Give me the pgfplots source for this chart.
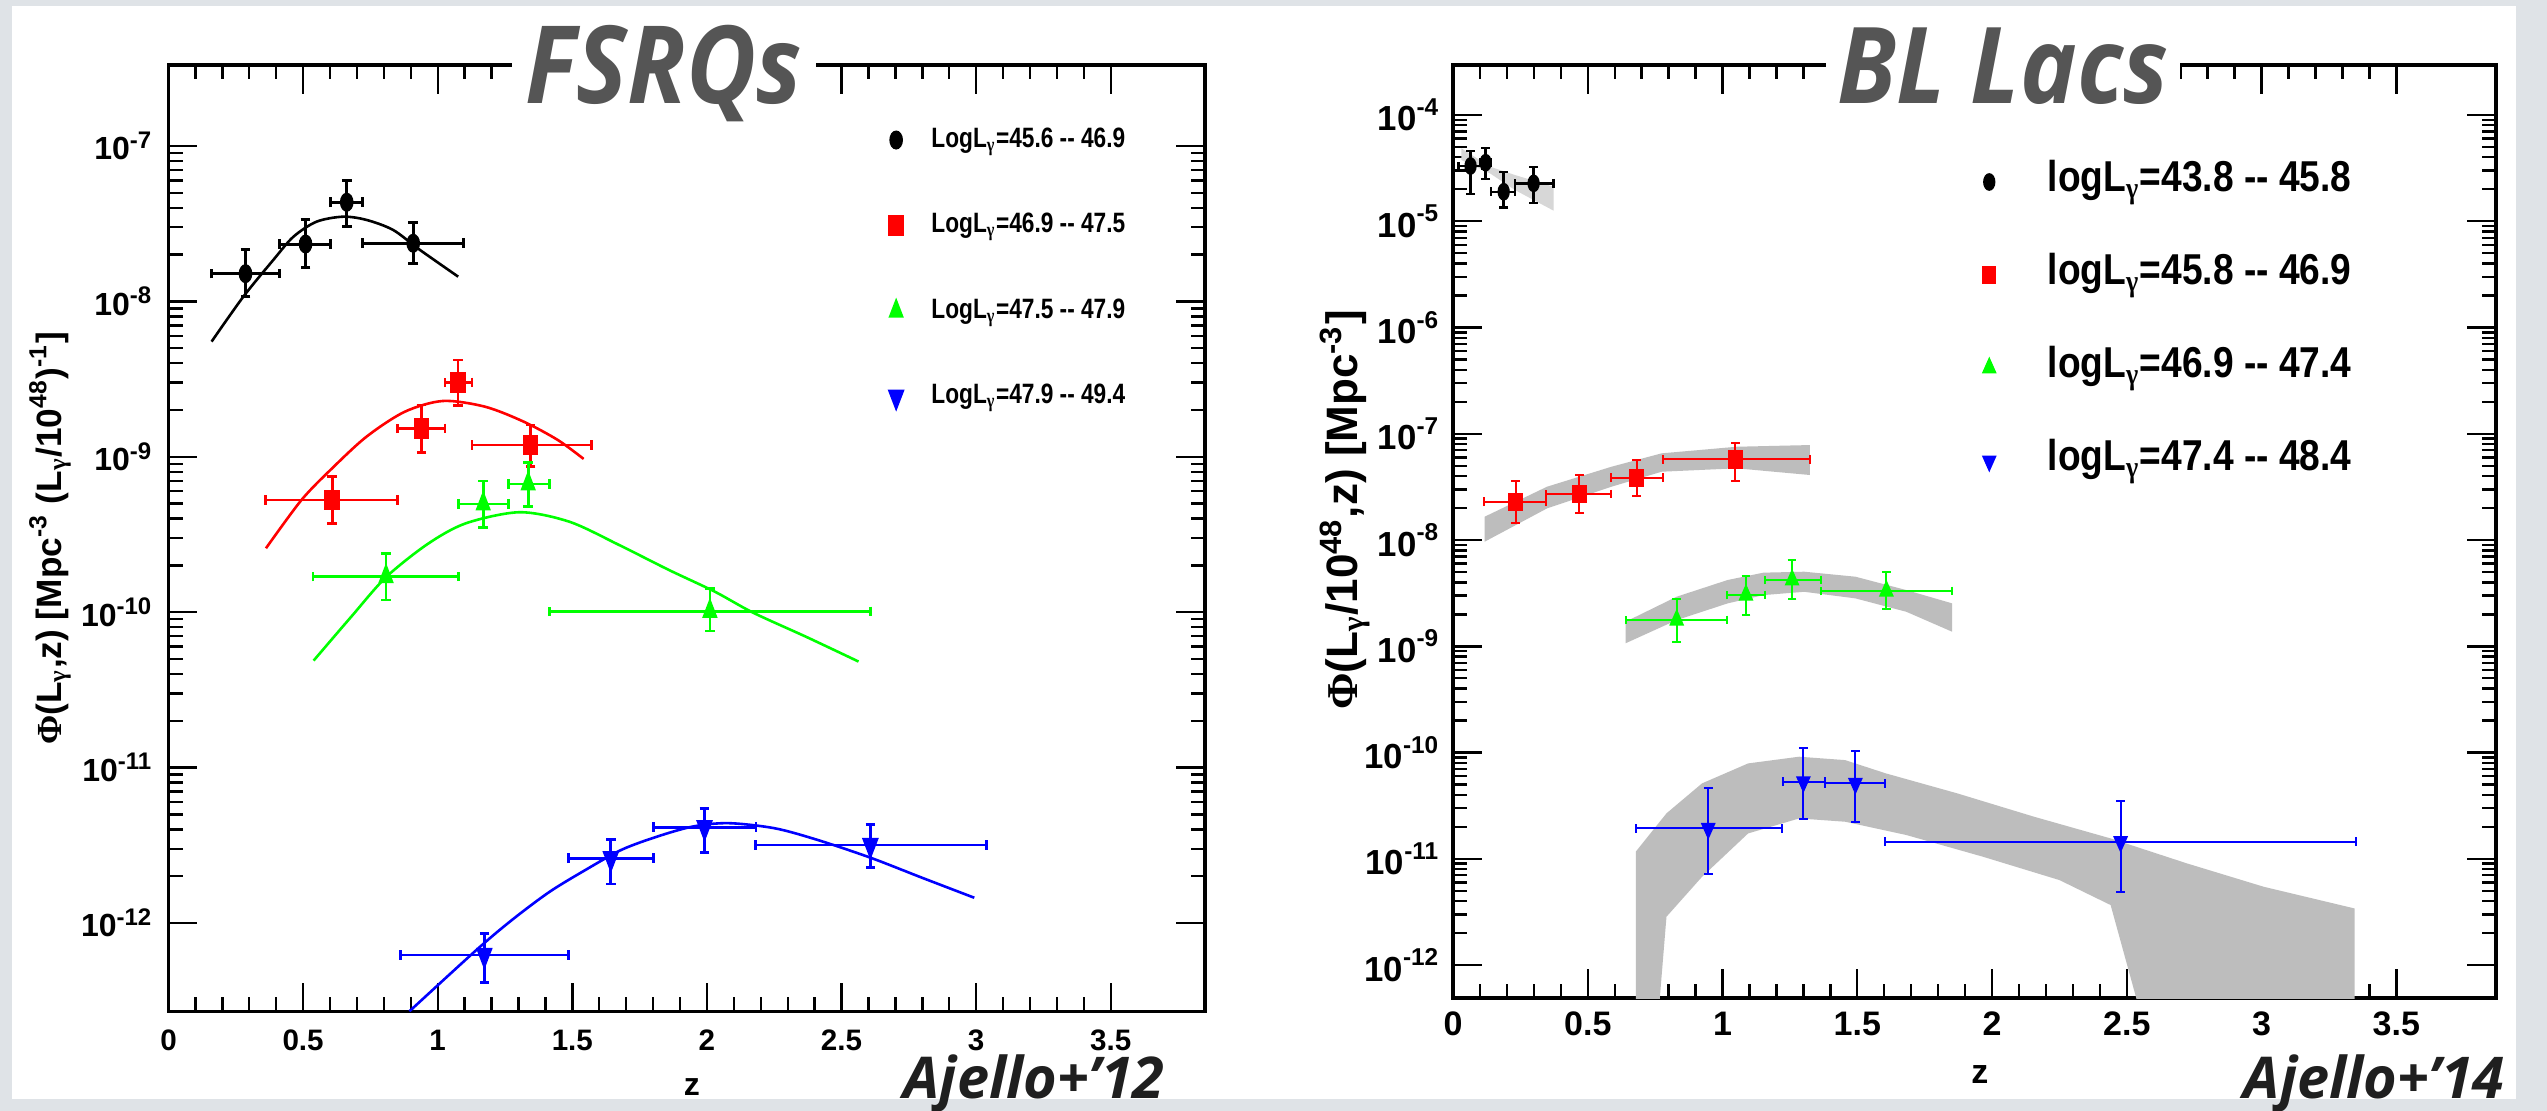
\documentclass[border=0pt]{standalone}
\usepackage{fontspec}
\setmainfont{Liberation Sans}
\newfontfamily\osfont{Open Sans}
\newfontfamily\serfont{Liberation Serif}
\usepackage{graphicx}
\usepackage{pgfplots}
\pgfplotsset{compat=1.18}
\definecolor{bggray}{HTML}{DFE3E7}
\definecolor{titlegray}{HTML}{555555}
\definecolor{mygreen}{HTML}{00FF00}
\definecolor{myred}{HTML}{FF0000}
\definecolor{myblue}{HTML}{0000FF}
\definecolor{bandgray}{HTML}{BDBDBD}
\newcommand{\gam}{\textsubscript{\serfont γ}}
\begin{document}
\begin{tikzpicture}
\fill[bggray] (0pt,0pt) rectangle (636.75pt,277.75pt);
\fill[white] (3pt,3pt) rectangle (629pt,276.25pt);

% ---------------- FSRQs ----------------
\begin{axis}[
  scale only axis, anchor=south west, ymode=log, xmin=0,
  tick align=inside,
  axis line style={line width=0.8pt},
  tick style={black, line width=0.6pt},
  major tick length=7.2pt, minor tick length=3.6pt,
  xtick={0,0.5,1,1.5,2,2.5,3,3.5},
  xticklabels={0,0.5,1,1.5,2,2.5,3,3.5},
  minor x tick num=4,
  legend cell align=left,
  at={(42.125pt,24.875pt)}, width=259.125pt, height=236.625pt,
  xmax=3.85, ymin=2.69e-13, ymax=3.32e-7,
  ytick={1e-12,1e-11,1e-10,1e-9,1e-8,1e-7},
  yticklabels={10\textsuperscript{-12},10\textsuperscript{-11},10\textsuperscript{-10},10\textsuperscript{-9},10\textsuperscript{-8},10\textsuperscript{-7}},
  yticklabel style={font=\bfseries\fontsize{8}{9}\selectfont, inner sep=0pt, xshift=-3.6pt},
  xticklabel style={font=\bfseries\fontsize{7.4}{9}\selectfont, inner sep=0pt, yshift=-4.4pt},
  xlabel={z},
  xlabel style={at={(axis description cs:0.505,-0.0798)}, anchor=center, font=\bfseries\fontsize{8}{9}\selectfont},
  ylabel={{\serfont Φ}(L\gam,z) [Mpc\textsuperscript{-3} (L\gam/10\textsuperscript{48})\textsuperscript{-1}]},
  ylabel style={at={(axis description cs:-0.1143,0.5)}, anchor=center, font=\bfseries\fontsize{8.8}{10}\selectfont},
  legend style={draw=none, fill=none, at={(0.695,0.9366)}, anchor=north west, inner sep=0pt, outer sep=0pt,
    row sep=13.9pt, column sep=7pt, font=\bfseries\fontsize{7}{8}\selectfont,
    nodes={inner sep=0pt, text height=5.5pt, text depth=2pt}},
]
% model curves
\addplot[black, line width=0.65pt, smooth, forget plot] coordinates {
(0.160,5.508e-9) (0.278,1.072e-8) (0.389,1.845e-8) (0.464,2.606e-8) (0.550,3.258e-8) (0.649,3.508e-8)
(0.736,3.342e-8) (0.835,2.877e-8) (0.934,2.143e-8) (1.076,1.442e-8)};
\addplot[myred, line width=0.65pt, smooth, forget plot] coordinates {
(0.362,2.576e-10) (0.494,5.272e-10) (0.608,8.433e-10) (0.736,1.349e-9) (0.878,1.950e-9) (1.020,2.286e-9)
(1.176,2.099e-9) (1.319,1.683e-9) (1.446,1.282e-9) (1.542,9.683e-10)};
\addplot[mygreen, line width=0.65pt, smooth, forget plot] coordinates {
(0.539,4.875e-11) (0.679,9.354e-11) (0.808,1.679e-10) (0.963,2.748e-10) (1.105,3.733e-10) (1.304,4.395e-10)
(1.489,3.819e-10) (1.674,2.704e-10) (1.858,1.871e-10) (2.029,1.355e-10) (2.171,9.931e-11) (2.370,6.918e-11) (2.563,4.808e-11)};
\addplot[myblue, line width=0.65pt, smooth, forget plot] coordinates {
(0.895,2.70e-13) (1.151,6.871e-13) (1.284,1.072e-12) (1.417,1.592e-12) (1.549,2.193e-12) (1.682,2.951e-12)
(1.814,3.589e-12) (1.947,4.169e-12) (2.080,4.385e-12) (2.252,4.064e-12) (2.411,3.420e-12) (2.607,2.630e-12)
(2.800,1.950e-12) (2.993,1.452e-12)};
% data points
\addplot[only marks, mark=*, black, mark size=1.5pt, mark options={yscale=1.45},
  error bars/.cd, x dir=both, x explicit, y dir=both, y explicit,
  error bar style={line width=0.75pt}, error mark options={rotate=90, mark size=1.2pt, line width=0.75pt}]
  table[x=z, y=v, x error minus=xm, x error plus=xp, y error minus=ym, y error plus=yp] {
z xm xp v ym yp
0.286 0.128 0.127 1.507e-8 0.435e-8 0.636e-8
0.509 0.095 0.094 2.339e-8 0.683e-8 1.003e-8
0.662 0.060 0.058 4.345e-8 1.318e-8 1.694e-8
0.909 0.189 0.188 2.366e-8 0.624e-8 0.862e-8
};
\addlegendentry{\scalebox{0.81}[1]{LogL\gam=45.6 -{}- 46.9}}
\addplot[only marks, mark=square*, myred, mark size=1.75pt, mark options={yscale=1.36},
  error bars/.cd, x dir=both, x explicit, y dir=both, y explicit,
  error bar style={line width=0.7pt}, error mark options={rotate=90, mark size=1.2pt, line width=0.7pt}]
  table[x=z, y=v, x error minus=xm, x error plus=xp, y error minus=ym, y error plus=yp] {
z xm xp v ym yp
0.608 0.249 0.244 5.272e-10 1.539e-10 2.175e-10
0.939 0.087 0.088 1.524e-9 0.455e-9 0.629e-9
1.075 0.048 0.052 3.013e-9 0.880e-9 1.185e-9
1.345 0.218 0.225 1.191e-9 0.328e-9 0.412e-9
};
\addlegendentry{\scalebox{0.81}[1]{LogL\gam=46.9 -{}- 47.5}}
\addplot[only marks, mark=triangle*, mygreen, mark size=1.9pt, mark options={yscale=1.5},
  error bars/.cd, x dir=both, x explicit, y dir=both, y explicit,
  error bar style={line width=0.7pt}, error mark options={rotate=90, mark size=1.2pt, line width=0.7pt}]
  table[x=z, y=v, x error minus=xm, x error plus=xp, y error minus=ym, y error plus=yp] {
z xm xp v ym yp
0.808 0.271 0.270 1.694e-10 0.497e-10 0.699e-10
1.169 0.091 0.093 4.966e-10 1.450e-10 2.016e-10
1.336 0.074 0.078 6.683e-10 1.908e-10 2.521e-10
2.011 0.597 0.596 1.012e-10 0.255e-10 0.414e-10
};
\addlegendentry{\scalebox{0.81}[1]{LogL\gam=47.5 -{}- 47.9}}
\addplot[only marks, mark=triangle*, myblue, mark size=2.1pt, mark options={rotate=180, yscale=1.5},
  error bars/.cd, x dir=both, x explicit, y dir=both, y explicit,
  error bar style={line width=0.7pt}, error mark options={rotate=90, mark size=1.2pt, line width=0.7pt}]
  table[x=z, y=v, x error minus=xm, x error plus=xp, y error minus=ym, y error plus=yp] {
z xm xp v ym yp
1.173 0.311 0.313 6.223e-13 2.093e-13 2.367e-13
1.643 0.157 0.158 2.606e-12 0.824e-12 0.853e-12
1.991 0.190 0.191 4.130e-12 1.279e-12 1.340e-12
2.607 0.426 0.431 3.170e-12 0.900e-12 1.115e-12
};
\addlegendentry{\scalebox{0.81}[1]{LogL\gam=47.9 -{}- 49.4}}
\end{axis}

% ---------------- BL Lacs ----------------
\begin{axis}[
  scale only axis, anchor=south west, ymode=log, xmin=0,
  tick align=inside,
  axis line style={line width=0.8pt},
  tick style={black, line width=0.6pt},
  major tick length=7.2pt, minor tick length=3.6pt,
  xtick={0,0.5,1,1.5,2,2.5,3,3.5},
  xticklabels={0,0.5,1,1.5,2,2.5,3,3.5},
  minor x tick num=4,
  legend cell align=left,
  at={(363.25pt,28.25pt)}, width=260.75pt, height=233.25pt,
  xmax=3.87, ymin=4.9e-13, ymax=2.955e-4,
  ytick={1e-12,1e-11,1e-10,1e-9,1e-8,1e-7,1e-6,1e-5,1e-4},
  yticklabels={10\textsuperscript{-12},10\textsuperscript{-11},10\textsuperscript{-10},10\textsuperscript{-9},10\textsuperscript{-8},10\textsuperscript{-7},10\textsuperscript{-6},10\textsuperscript{-5},10\textsuperscript{-4}},
  yticklabel style={font=\bfseries\fontsize{8.7}{10}\selectfont, inner sep=0pt, xshift=-3pt},
  xticklabel style={font=\bfseries\fontsize{8.5}{10}\selectfont, inner sep=0pt, yshift=-3.25pt},
  xlabel={z},
  xlabel style={at={(axis description cs:0.505,-0.0815)}, anchor=center, font=\bfseries\fontsize{8.5}{10}\selectfont},
  ylabel={{\serfont Φ}(L\gam/10\textsuperscript{48},z) [Mpc\textsuperscript{-3}]},
  ylabel style={at={(axis description cs:-0.1035,0.523)}, anchor=center, font=\bfseries\fontsize{11}{13}\selectfont},
  legend style={draw=none, fill=none, at={(0.508,0.8982)}, anchor=north west, inner sep=0pt, outer sep=0pt,
    row sep=12.25pt, column sep=13pt, font=\bfseries\fontsize{10.8}{12}\selectfont,
    nodes={inner sep=0pt, text height=8pt, text depth=3pt}},
]
% uncertainty bands
\addplot[fill=bandgray!60, draw=none, forget plot] coordinates {
(0.031,4.853e-5) (0.137,3.266e-5) (0.230,2.723e-5) (0.373,2.113e-5)
(0.373,1.259e-5) (0.230,1.968e-5) (0.137,2.825e-5) (0.031,3.767e-5)} -- cycle;
\addplot[fill=bandgray, draw=none, forget plot] coordinates {
(0.117,1.656e-8) (0.349,3.177e-8) (0.588,4.898e-8) (0.774,6.546e-8) (1.052,7.551e-8) (1.324,7.834e-8)
(1.324,4.093e-8) (1.052,4.732e-8) (0.774,4.395e-8) (0.588,3.177e-8) (0.349,1.986e-8) (0.117,9.638e-9)} -- cycle;
\addplot[fill=bandgray, draw=none, forget plot] coordinates {
(0.640,1.702e-9) (0.830,2.931e-9) (1.019,4.207e-9) (1.152,4.932e-9) (1.303,5.035e-9) (1.493,4.519e-9)
(1.682,3.381e-9) (1.852,2.535e-9) (1.852,1.371e-9) (1.682,2.113e-9) (1.493,2.825e-9) (1.303,3.258e-9)
(1.152,3.034e-9) (1.019,2.535e-9) (0.830,1.766e-9) (0.640,1.067e-9)} -- cycle;
\addplot[fill=bandgray, draw=none, forget plot] coordinates {
(0.678,1.167e-11) (0.792,2.679e-11) (0.924,5.129e-11) (1.095,7.907e-11) (1.284,9.141e-11) (1.455,8.492e-11)
(1.606,6.368e-11) (1.871,4.130e-11) (2.156,2.489e-11) (2.440,1.556e-11) (2.723,9.057e-12) (3.008,5.458e-12)
(3.345,3.412e-12) (3.345,1e-13) (2.610,1e-13) (2.440,3.673e-12) (2.250,6.310e-12) (1.966,1.047e-11)
(1.682,1.675e-11) (1.455,2.234e-11) (1.284,2.399e-11) (1.095,1.734e-11) (0.924,6.776e-12) (0.792,2.851e-12)
(0.745,1e-13) (0.678,1e-13)} -- cycle;
% data points
\addplot[only marks, mark=*, black, mark size=1.34pt, mark options={yscale=1.5},
  error bars/.cd, x dir=both, x explicit, y dir=both, y explicit,
  error bar style={line width=0.6pt}, error mark options={rotate=90, mark size=1.1pt, line width=0.6pt}]
  table[x=z, y=v, x error minus=xm, x error plus=xp, y error minus=ym, y error plus=yp] {
z xm xp v ym yp
0.065 0.045 0.045 3.311e-5 1.516e-5 1.270e-5
0.121 0.020 0.020 3.556e-5 1.073e-5 1.364e-5
0.188 0.047 0.042 1.897e-5 0.545e-5 1.027e-5
0.299 0.069 0.074 2.275e-5 0.799e-5 0.983e-5
};
\addlegendentry{\scalebox{0.86}[1]{logL\gam=43.8 -{}- 45.8}}
\addplot[only marks, mark=square*, myred, mark size=1.6pt, mark options={yscale=1.3},
  error bars/.cd, x dir=both, x explicit, y dir=both, y explicit,
  error bar style={line width=0.5pt}, error mark options={rotate=90, mark size=1.1pt, line width=0.5pt}]
  table[x=z, y=v, x error minus=xm, x error plus=xp, y error minus=ym, y error plus=yp] {
z xm xp v ym yp
0.232 0.117 0.114 2.296e-8 0.841e-8 1.318e-8
0.469 0.123 0.119 2.710e-8 0.903e-8 1.383e-8
0.681 0.093 0.099 3.855e-8 1.261e-8 1.807e-8
1.048 0.268 0.276 5.741e-8 2.127e-8 2.500e-8
};
\addlegendentry{\scalebox{0.86}[1]{logL\gam=45.8 -{}- 46.9}}
\addplot[only marks, mark=triangle*, mygreen, mark size=1.8pt, mark options={yscale=1.3},
  error bars/.cd, x dir=both, x explicit, y dir=both, y explicit,
  error bar style={line width=0.5pt}, error mark options={rotate=90, mark size=1.1pt, line width=0.5pt}]
  table[x=z, y=v, x error minus=xm, x error plus=xp, y error minus=ym, y error plus=yp] {
z xm xp v ym yp
0.830 0.190 0.185 1.766e-9 0.677e-9 1.001e-9
1.087 0.072 0.069 3.034e-9 1.066e-9 1.579e-9
1.258 0.102 0.106 4.207e-9 1.421e-9 2.235e-9
1.608 0.244 0.244 3.311e-9 1.083e-9 1.724e-9
};
\addlegendentry{\scalebox{0.86}[1]{logL\gam=46.9 -{}- 47.4}}
\addplot[only marks, mark=triangle*, myblue, mark size=1.8pt, mark options={rotate=180, yscale=1.3},
  error bars/.cd, x dir=both, x explicit, y dir=both, y explicit,
  error bar style={line width=0.5pt}, error mark options={rotate=90, mark size=1.1pt, line width=0.5pt}]
  table[x=z, y=v, x error minus=xm, x error plus=xp, y error minus=ym, y error plus=yp] {
z xm xp v ym yp
0.947 0.269 0.275 1.932e-11 1.214e-11 2.671e-11
1.300 0.076 0.079 5.309e-11 2.943e-11 5.631e-11
1.493 0.114 0.109 5.129e-11 2.926e-11 5.271e-11
2.477 0.875 0.872 1.449e-11 0.966e-11 2.050e-11
};
\addlegendentry{\scalebox{0.86}[1]{logL\gam=47.4 -{}- 48.4}}
\end{axis}

% titles and credits
\node[anchor=base, fill=white, inner xsep=3.5pt, inner ysep=1pt, text=titlegray,
  font=\osfont\bfseries\itshape\fontsize{27}{30}\selectfont] at (166pt,251.75pt) {\scalebox{0.89}[1]{FSRQs}};
\node[anchor=base, fill=white, inner xsep=3pt, inner ysep=1pt, text=titlegray,
  font=\osfont\bfseries\itshape\fontsize{26.5}{30}\selectfont] at (500.75pt,251.9pt) {\scalebox{0.9}[1]{BL Lacs}};
\node[anchor=base west, inner sep=0pt, text=black!88,
  font=\osfont\bfseries\itshape\fontsize{14.4}{16}\selectfont] at (225.75pt,3pt) {Ajello+’12};
\node[anchor=base west, inner sep=0pt, text=black!88,
  font=\osfont\bfseries\itshape\fontsize{14.4}{16}\selectfont] at (560.75pt,3pt) {Ajello+’14};
\pgfresetboundingbox
\path[use as bounding box] (0pt,0pt) rectangle (636.75pt,277.75pt);
\end{tikzpicture}
\end{document}
